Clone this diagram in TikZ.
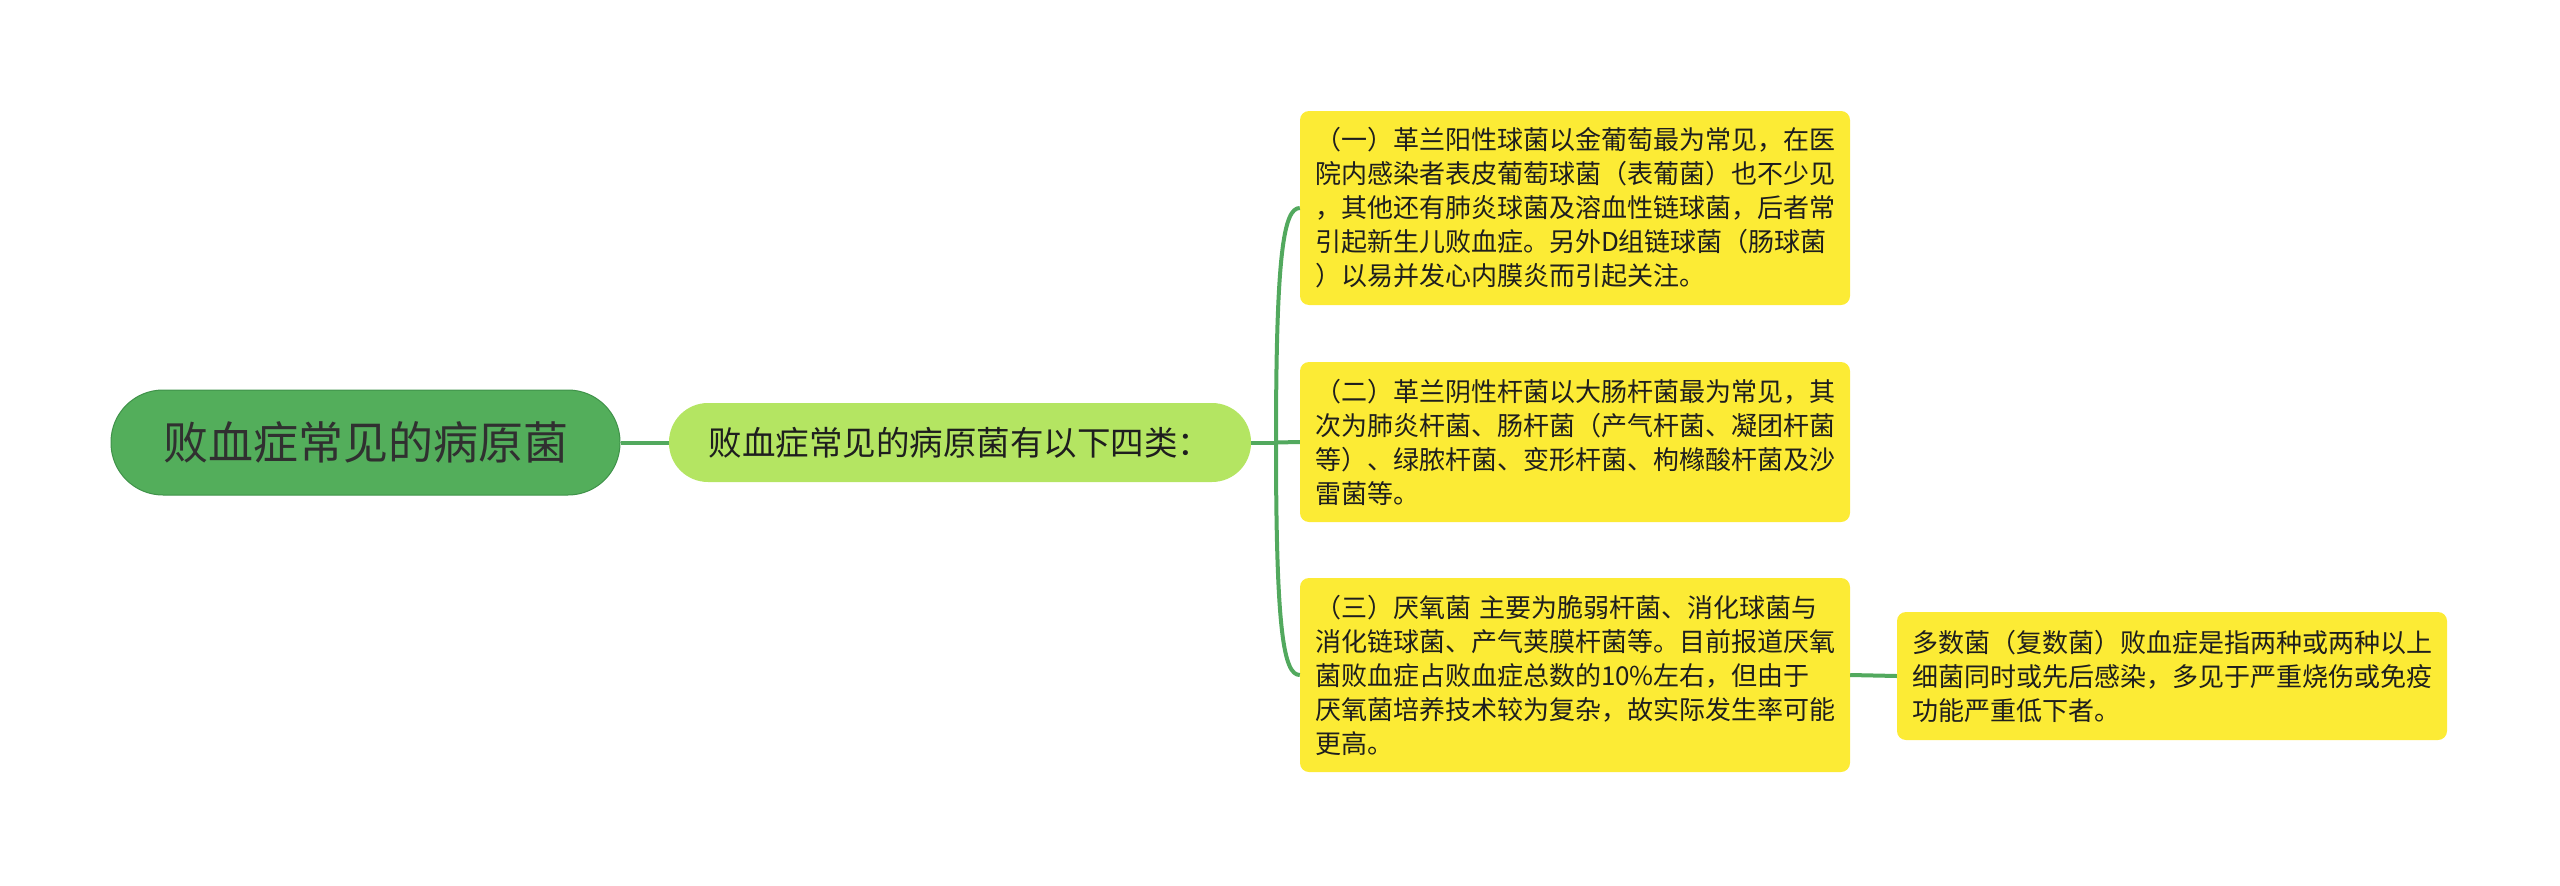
\documentclass[tikz,border=0pt]{standalone}
\usepackage{fontspec}
\newfontfamily\cjk{Noto Sans CJK SC}
\usetikzlibrary{calc}
\definecolor{rootgreen}{HTML}{53AE5B}
\definecolor{rootborder}{HTML}{3F9249}
\definecolor{limegreen}{HTML}{B4E562}
\definecolor{boxyellow}{HTML}{FCEB35}
\definecolor{linkgreen}{HTML}{52A95E}
\definecolor{txt}{HTML}{1E1E1E}
\tikzset{
  rootnode/.style={draw=rootborder, line width=1pt, fill=rootgreen, rounded corners=52pt,
    minimum width=509pt, minimum height=105pt, inner sep=0pt, text=txt!92!white,
    font=\cjk\fontsize{45}{54}\selectfont},
  subnode/.style={fill=limegreen, rounded corners=39pt, minimum width=582pt, minimum height=79pt,
    inner sep=0pt, text=txt, font=\cjk\fontsize{33.5}{40}\selectfont},
  leafbox/.style={fill=boxyellow, rounded corners=9pt, text width=520pt, inner xsep=15pt,
    inner ysep=0pt, align=left, text=txt, font=\cjk\fontsize{26}{34}\selectfont},
  link/.style={draw=linkgreen, line width=4pt}
}
\begin{document}
\begin{tikzpicture}[x=1pt,y=-1pt]
\useasboundingbox (0,0) rectangle (2560,886);
\node[rootnode] (root) at (365.5,442.5) {败血症常见的病原菌};
\node[subnode] (l1) at (960,442.5) {败血症常见的病原菌有以下四类：};
\node[leafbox, minimum height=194pt] (b1) at (1575,208) {（一）革兰阳性球菌以金葡萄最为常见，在医\\院内感染者表皮葡萄球菌（表葡菌）也不少见\\，其他还有肺炎球菌及溶血性链球菌，后者常\\引起新生儿败血症。另外D组链球菌（肠球菌\\）以易并发心内膜炎而引起关注。};
\node[leafbox, minimum height=160pt] (b2) at (1575,442) {（二）革兰阴性杆菌以大肠杆菌最为常见，其\\次为肺炎杆菌、肠杆菌（产气杆菌、凝团杆菌\\等）、绿脓杆菌、变形杆菌、枸橼酸杆菌及沙\\雷菌等。};
\node[leafbox, minimum height=194pt] (b3) at (1575,675) {（三）厌氧菌 主要为脆弱杆菌、消化球菌与\\消化链球菌、产气荚膜杆菌等。目前报道厌氧\\菌败血症占败血症总数的10\%左右，但由于\\厌氧菌培养技术较为复杂，故实际发生率可能\\更高。};
\node[leafbox, minimum height=128pt] (b4) at (2172,676) {多数菌（复数菌）败血症是指两种或两种以上\\细菌同时或先后感染，多见于严重烧伤或免疫\\功能严重低下者。};
\coordinate (j) at (1276,442.5);
\draw[link] (root.east) -- (l1.west);
\draw[link] (l1.east) -- (j);
\draw[link] (j) .. controls ($(j)+(0,-190)$) and ($(b1.west)+(-16,0)$) .. (b1.west);
\draw[link] (j) -- (b2.west);
\draw[link] (j) .. controls ($(j)+(0,190)$) and ($(b3.west)+(-16,0)$) .. (b3.west);
\draw[link] (b3.east) -- (b4.west);
\end{tikzpicture}
\end{document}
